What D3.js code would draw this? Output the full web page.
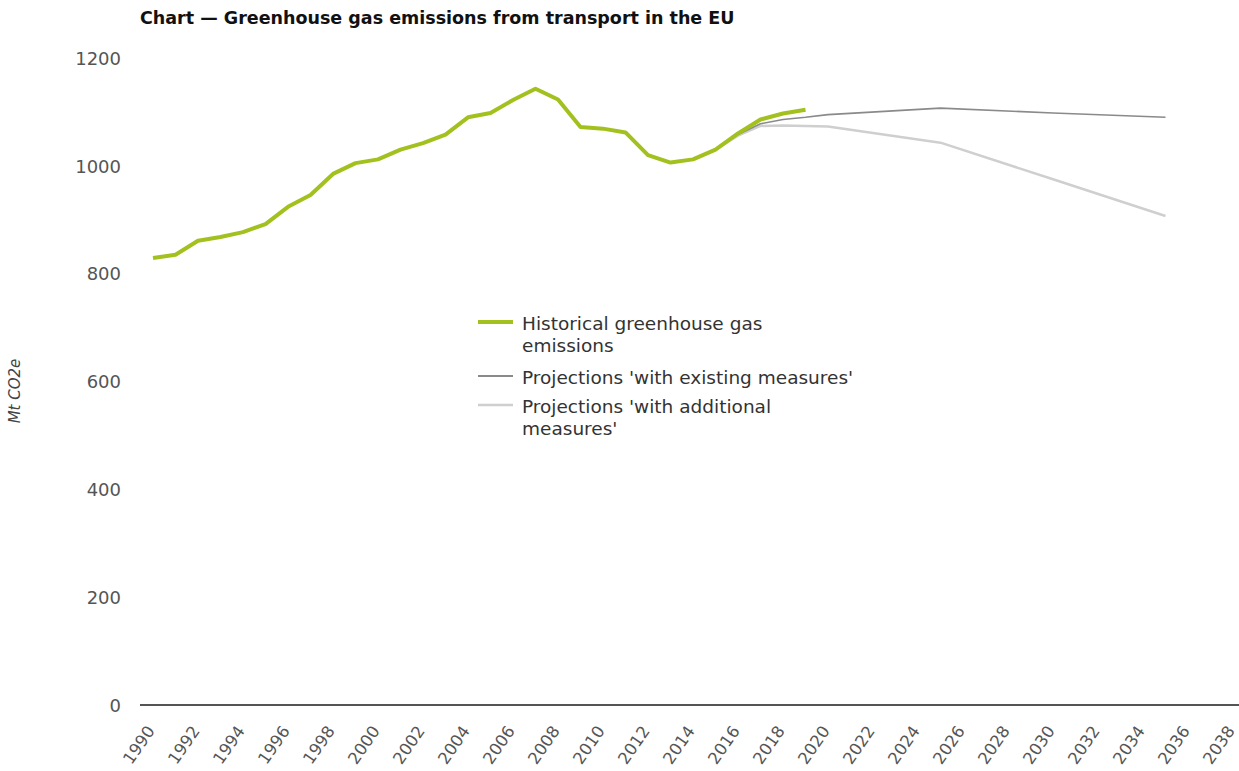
<!DOCTYPE html>
<html>
<head>
<meta charset="utf-8">
<script src="https://cdn.jsdelivr.net/npm/d3@7"></script>
<style>
  html, body { margin: 0; padding: 0; background: #fff; }
  svg { display: block; }
</style>
</head>
<body>
<svg id="chart" width="1239" height="771"></svg>
<script>
// ---- data ----
const histYears = [1990,1991,1992,1993,1994,1995,1996,1997,1998,1999,2000,2001,2002,2003,2004,2005,2006,2007,2008,2009,2010,2011,2012,2013,2014,2015,2016,2017,2018,2019];
const histValues = [829,835,861,868,877,892,924,946,985,1005,1012,1030,1042,1058,1090,1098,1122,1143,1123,1072,1069,1062,1020,1006,1012,1030,1060,1086,1097,1104];
const projYears = [2015,2016,2017,2018,2019,2020,2025,2030,2035];
const wemValues = [1030,1058,1078,1086,1090,1095,1107,1098,1090];
const wamValues = [1030,1056,1074,1075,1074,1073,1043,975,907];
const yTicks = [0,200,400,600,800,1000,1200];
const xTicks = [1990,1992,1994,1996,1998,2000,2002,2004,2006,2008,2010,2012,2014,2016,2018,2020,2022,2024,2026,2028,2030,2032,2034,2036,2038];
const legendItems = [
  {lines:["Historical greenhouse gas","emissions"], color:"#a2c11f", width:4},
  {lines:["Projections 'with existing measures'"], color:"#8a8a8a", width:2},
  {lines:["Projections 'with additional","measures'"], color:"#cfcfcf", width:2.5}
];

const svg = d3.select("#chart");
const font = "DejaVu Sans, Verdana, sans-serif";

const x = d3.scaleLinear().domain([1990, 2038]).range([153, 1233]);
const y = d3.scaleLinear().domain([0, 1200]).range([705, 58]);

// title
svg.append("text")
  .attr("x", 140).attr("y", 24)
  .attr("font-family", font).attr("font-weight", "bold")
  .attr("font-size", 17.5).attr("fill", "#111")
  .text("Chart \u2014 Greenhouse gas emissions from transport in the EU");

// y axis labels
const yAxis = d3.axisLeft(y).tickValues(yTicks).tickSize(0).tickPadding(0).tickFormat(d3.format("d"));
const gy = svg.append("g").attr("transform", "translate(121,0)").call(yAxis);
gy.select(".domain").remove();
gy.selectAll("text").attr("font-family", font).attr("font-size", 18).attr("fill", "#555").attr("dy", "0.35em");

// y axis title
svg.append("text")
  .attr("transform", "translate(20,391) rotate(-90)")
  .attr("text-anchor", "middle")
  .attr("font-family", font).attr("font-style", "italic")
  .attr("font-size", 15).attr("fill", "#444")
  .text("Mt CO2e");

// x axis
const xAxis = d3.axisBottom(x).tickValues(xTicks).tickSize(0).tickPadding(0).tickFormat(d3.format("d"));
const gx = svg.append("g").attr("transform", "translate(0,705)").call(xAxis);
gx.select(".domain").remove();
gx.selectAll("text")
  .attr("font-family", font).attr("font-size", 16.5).attr("fill", "#555")
  .attr("text-anchor", "end")
  .attr("y", 0).attr("dy", 0)
  .attr("transform", "translate(2,26) rotate(-55)");

svg.append("line")
  .attr("x1", 140).attr("x2", 1239)
  .attr("y1", 705).attr("y2", 705)
  .attr("stroke", "#555").attr("stroke-width", 2);

// lines
const line = d3.line().x(d => x(d[0])).y(d => y(d[1]));
const wam = projYears.map((yr, i) => [yr, wamValues[i]]);
const wem = projYears.map((yr, i) => [yr, wemValues[i]]);
const hist = histYears.map((yr, i) => [yr, histValues[i]]);

svg.append("path").datum(wam).attr("d", line)
  .attr("fill", "none").attr("stroke", "#cfcfcf").attr("stroke-width", 2.5).attr("stroke-linejoin", "round");
svg.append("path").datum(wem).attr("d", line)
  .attr("fill", "none").attr("stroke", "#8a8a8a").attr("stroke-width", 1.6).attr("stroke-linejoin", "round");
svg.append("path").datum(hist).attr("d", line)
  .attr("fill", "none").attr("stroke", "#a2c11f").attr("stroke-width", 4).attr("stroke-linejoin", "round");

// legend
const lg = svg.append("g");
const swatchY = [322, 376, 405];
const textY = [330, 384, 413];
legendItems.forEach((it, i) => {
  lg.append("line").attr("x1", 478).attr("x2", 513)
    .attr("y1", swatchY[i]).attr("y2", swatchY[i])
    .attr("stroke", it.color).attr("stroke-width", it.width);
  const t = lg.append("text").attr("x", 522).attr("y", textY[i])
    .attr("font-family", font).attr("font-size", 18.5).attr("fill", "#333");
  it.lines.forEach((l, j) => {
    t.append("tspan").attr("x", 522).attr("dy", j === 0 ? 0 : 22).text(l);
  });
});
</script>
</body>
</html>
